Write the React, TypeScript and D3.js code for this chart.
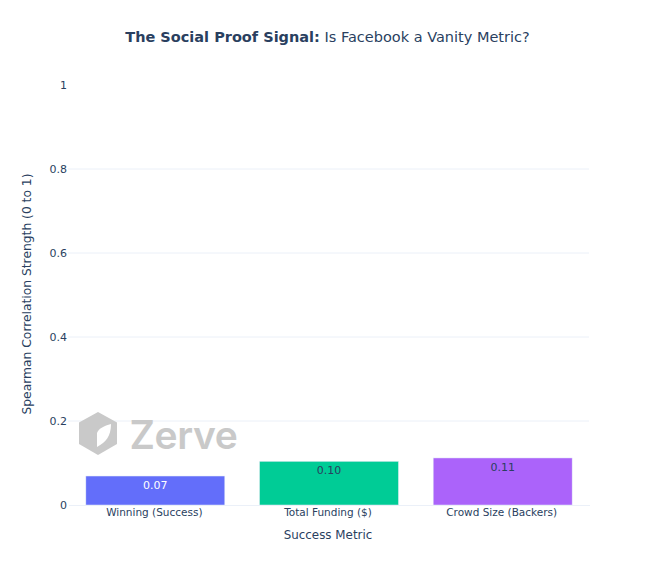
import React, { useEffect, useRef } from "react";
import * as d3 from "d3";

const categories = ["Winning (Success)", "Total Funding ($)", "Crowd Size (Backers)"];
const correlations = [0.069, 0.104, 0.112];
const barColors = ["#636efa", "#00cc96", "#ab63fa"];
const labelColors = ["#ffffff", "#2a3f5f", "#2a3f5f"];
const yTicks = [0, 0.2, 0.4, 0.6, 0.8, 1];

const width = 657;
const height = 573;
const margin = { top: 85, right: 68, bottom: 68, left: 68 };
const font = "'DejaVu Sans', Verdana, sans-serif";
const ink = "#2a3f5f";

const App: React.FC = () => {
  const svgRef = useRef<SVGSVGElement>(null);

  useEffect(() => {
    if (!svgRef.current) return;
    const svg = d3.select(svgRef.current);
    svg.selectAll("*").remove();

    const x = d3
      .scaleBand()
      .domain(categories)
      .range([margin.left + 0.5, width - margin.right + 0.5])
      .paddingInner(0.2)
      .paddingOuter(0.1);
    const y = d3
      .scaleLinear()
      .domain([0, 1])
      .range([height - margin.bottom, margin.top]);

    // Gridlines
    svg
      .append("g")
      .selectAll("line")
      .data(yTicks.filter((d) => d > 0 && d < 1))
      .enter()
      .append("line")
      .attr("x1", margin.left)
      .attr("x2", width - margin.right)
      .attr("y1", (d) => y(d))
      .attr("y2", (d) => y(d))
      .attr("stroke", "#ebf0f8")
      .attr("stroke-width", 1);

    // Watermark
    const logo = svg.append("g").attr("transform", "translate(79,412)");
    logo
      .append("path")
      .attr("d", "M19,0 L38,10.5 L38,32 L19,43 L0,32 L0,10.5 Z")
      .attr("fill", "#c9c9c9");
    logo
      .append("path")
      .attr("d", "M18,35 L18,21 C20,16 25,14 32,12 C32,24 27,30 18,35 Z")
      .attr("fill", "#ffffff");
    svg
      .append("text")
      .attr("x", 129.5)
      .attr("y", 449)
      .attr("font-family", "Inter, sans-serif")
      .attr("font-size", 39)
      .attr("font-weight", 600)
      .attr("letter-spacing", -0.4)
      .attr("fill", "#c9c9c9")
      .text("Zerve");

    // Bars
    svg
      .append("g")
      .selectAll("rect")
      .data(categories)
      .enter()
      .append("rect")
      .attr("x", (d) => x(d) || 0)
      .attr("y", (_, i) => y(correlations[i]))
      .attr("width", x.bandwidth())
      .attr("height", (_, i) => y(0) - y(correlations[i]))
      .attr("fill", (_, i) => barColors[i])
      .attr("stroke", "#e5ecf6")
      .attr("stroke-width", 0.5);

    // Value labels
    svg
      .append("g")
      .selectAll("text")
      .data(categories)
      .enter()
      .append("text")
      .attr("x", (d) => (x(d) || 0) + x.bandwidth() / 2)
      .attr("y", (_, i) => y(correlations[i]) + 13)
      .attr("text-anchor", "middle")
      .attr("font-family", font)
      .attr("font-size", 11)
      .attr("fill", (_, i) => labelColors[i])
      .text((_, i) => d3.format(".2f")(correlations[i]));

    // Axes
    const xAxis = svg
      .append("g")
      .attr("transform", `translate(0,${y(0)})`)
      .call(d3.axisBottom(x).tickSize(0).tickPadding(4));
    xAxis.select(".domain").attr("stroke", "#ebf0f8");
    xAxis
      .selectAll("text")
      .attr("dx", -1)
      .attr("font-family", font)
      .attr("font-size", 10.5)
      .attr("fill", ink);

    const yAxis = svg
      .append("g")
      .attr("transform", `translate(${margin.left},0)`)
      .call(
        d3
          .axisLeft(y)
          .tickValues(yTicks)
          .tickFormat((d) => String(d))
          .tickSize(0)
          .tickPadding(1)
      );
    yAxis.select(".domain").remove();
    yAxis
      .selectAll("text")
      .attr("font-family", font)
      .attr("font-size", 11)
      .attr("fill", ink);

    // Titles
    const title = svg
      .append("text")
      .attr("x", 327.5)
      .attr("y", 42)
      .attr("text-anchor", "middle")
      .attr("font-family", font)
      .attr("font-size", 14.5)
      .attr("fill", ink);
    title.append("tspan").attr("font-weight", "bold").text("The Social Proof Signal:");
    title.append("tspan").text(" Is Facebook a Vanity Metric?");

    svg
      .append("text")
      .attr("x", 328)
      .attr("y", 539)
      .attr("text-anchor", "middle")
      .attr("font-family", font)
      .attr("font-size", 11.9)
      .attr("fill", ink)
      .text("Success Metric");

    svg
      .append("text")
      .attr("transform", "translate(31,294) rotate(-90)")
      .attr("text-anchor", "middle")
      .attr("font-family", font)
      .attr("font-size", 12.3)
      .attr("fill", ink)
      .text("Spearman Correlation Strength (0 to 1)");
  }, []);

  return (
    <svg
      ref={svgRef}
      width={width}
      height={height}
      style={{ display: "block", position: "absolute", left: 0, top: 0, background: "#fff" }}
    />
  );
};

export default App;
